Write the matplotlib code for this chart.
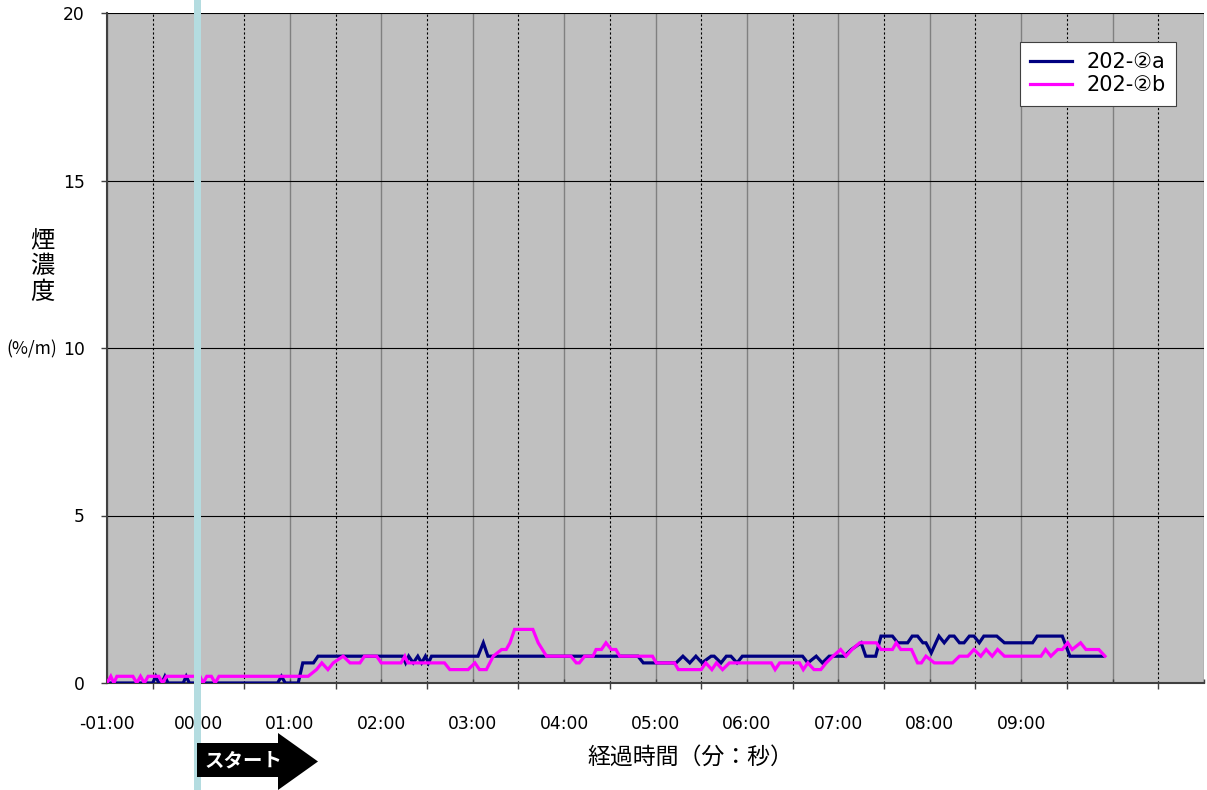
import matplotlib
matplotlib.use("Agg")
import matplotlib.pyplot as plt
from matplotlib.patches import Polygon, Rectangle
from matplotlib.ticker import FixedLocator, NullFormatter
from matplotlib.transforms import blended_transform_factory

plt.rcParams['font.family'] = ['DejaVu Sans', 'Noto Sans CJK JP']
JP = ['Noto Sans CJK JP', 'DejaVu Sans']

# 煙濃度 (%/m) の折れ線頂点: 経過時間[s] と値
time_a = [-60, -30, -28, -26, -24, -22, -20, -10, -8, -6, 52, 54.5, 57, 65.5,
          68.5, 75.5, 78.5, 134, 136, 138, 141, 144, 146.5, 149, 151, 153,
          183.5, 187, 190, 288.5, 292, 313.5, 318, 322.5, 326.5, 330.5, 336.5,
          338.5, 343, 346.5, 349.5, 353.5, 357, 396.5, 400, 405.5, 409.5, 414,
          424, 428.5, 435, 438, 444.5, 448, 455.5, 459, 465.5, 468.5, 472,
          475.5, 477.5, 481, 486, 489.5, 493, 496, 499.5, 502.5, 506, 509,
          512.5, 515.5, 524, 529, 547.5, 550.5, 567, 572, 594]
value_a = [0, 0, 0.2, 0, 0, 0.2, 0, 0, 0.2, 0, 0, 0.2, 0, 0,
           0.6, 0.6, 0.8, 0.8, 0.6, 0.8, 0.6, 0.8, 0.6, 0.8, 0.6, 0.8,
           0.8, 1.2, 0.8, 0.8, 0.6, 0.6, 0.8, 0.6, 0.8, 0.6, 0.8,
           0.8, 0.6, 0.8, 0.8, 0.6, 0.8, 0.8, 0.6, 0.8, 0.6, 0.8,
           0.8, 1.0, 1.2, 0.8, 0.8, 1.4, 1.4, 1.2, 1.2, 1.4, 1.4,
           1.2, 1.2, 0.9, 1.4, 1.2, 1.4, 1.4, 1.2, 1.2, 1.4, 1.4,
           1.2, 1.4, 1.4, 1.2, 1.2, 1.4, 1.4, 0.8, 0.8]

time_b = [-60, -57.5, -55.5, -53.5, -43, -40.5, -38, -35.5, -33, -26, -23.5,
          -21, 1, 3, 5.5, 8.5, 11, 13.5, 72, 77.5, 81, 85, 88.5, 95, 99.5,
          106, 109, 117, 120, 133, 135.5, 137.5, 161.5, 165, 177, 181.5, 184.5,
          189, 193.5, 199, 202, 204.5, 207.5, 219.5, 223, 228.5, 244.5, 248,
          250, 253.5, 259, 261, 264.5, 267.5, 271, 274, 276.5, 298, 300.5,
          312.5, 315, 330, 333, 337, 340, 344, 348.5, 376, 378.5, 381.5, 394.5,
          397, 400, 404, 408.5, 412, 416.5, 421.5, 425, 429, 434, 445, 448,
          455.5, 458, 461, 468, 472, 474.5, 477.5, 483, 495, 499.5, 505, 509,
          513.5, 517, 521, 524.5, 529, 553, 556, 559.5, 564, 567, 570.5, 573.5,
          579, 582.5, 591, 595]
value_b = [0, 0.2, 0, 0.2, 0.2, 0, 0.2, 0, 0.2, 0.2, 0,
           0.2, 0.2, 0, 0.2, 0.2, 0, 0.2, 0.2, 0.4, 0.6, 0.4, 0.6, 0.8, 0.6,
           0.6, 0.8, 0.8, 0.6, 0.6, 0.8, 0.6, 0.6, 0.4, 0.4, 0.6, 0.4,
           0.4, 0.8, 1.0, 1.0, 1.2, 1.6, 1.6, 1.2, 0.8, 0.8, 0.6,
           0.6, 0.8, 0.8, 1.0, 1.0, 1.2, 1.0, 1.0, 0.8, 0.8, 0.6,
           0.6, 0.4, 0.4, 0.6, 0.4, 0.6, 0.4, 0.6, 0.6, 0.4, 0.6, 0.6,
           0.4, 0.6, 0.4, 0.4, 0.6, 0.8, 1.0, 0.8, 1.0, 1.2, 1.2, 1.0,
           1.0, 1.2, 1.0, 1.0, 0.6, 0.6, 0.8, 0.6, 0.6, 0.8, 0.8, 1.0,
           0.8, 1.0, 0.8, 1.0, 0.8, 0.8, 1.0, 0.8, 1.0, 1.0, 1.2, 1.0,
           1.2, 1.0, 1.0, 0.8]

series_names = ["202-②a", "202-②b"]
series_colors = ["#000080", "#FF00FF"]

minute_ticks = list(range(-60, 661, 60))
half_minute_ticks = list(range(-30, 661, 60))
minute_labels = ["-01:00", "00:00", "01:00", "02:00", "03:00", "04:00",
                 "05:00", "06:00", "07:00", "08:00", "09:00", "", ""]
y_ticks = [0, 5, 10, 15, 20]

W, H = 1207, 790


def fig_xy(x, y):
    # pixel position (from top-left) -> figure fraction
    return x / W, 1 - y / H


fig = plt.figure(figsize=(W / 100, H / 100), dpi=100)
ax = fig.add_axes([107 / W, (H - 683) / H, (1204 - 107) / W, (683 - 13) / H])
ax.set_facecolor("#C0C0C0")

ax.plot(time_a, value_a, color=series_colors[0], lw=2.3, label=series_names[0],
        solid_joinstyle="miter", zorder=3)
ax.plot(time_b, value_b, color=series_colors[1], lw=2.3, label=series_names[1],
        solid_joinstyle="miter", zorder=4)

ax.set_xlim(-60, 660)
ax.set_ylim(0, 20)

ax.xaxis.set_major_locator(FixedLocator(minute_ticks))
ax.set_xticklabels(minute_labels, fontsize=12.3)
ax.xaxis.set_minor_locator(FixedLocator(half_minute_ticks))
ax.xaxis.set_minor_formatter(NullFormatter())
ax.set_yticks(y_ticks)
ax.set_yticklabels([str(v) for v in y_ticks], fontsize=12.3)

ax.tick_params(axis="x", which="major", direction="in", length=3, width=1,
               color="#404040", pad=23)
ax.tick_params(axis="x", which="minor", direction="out", length=4, width=1,
               color="#404040")
ax.tick_params(axis="y", direction="out", length=4, width=1, color="#404040",
               pad=12)

ax.grid(which="major", axis="x", color="#808080", lw=1.0)
ax.grid(which="minor", axis="x", color="black", lw=0.8, linestyle=(0, (2, 2)))
ax.grid(which="major", axis="y", color="black", lw=0.8)
ax.set_axisbelow(True)

for side in ("top", "right"):
    ax.spines[side].set_visible(False)
for side in ("left", "bottom"):
    ax.spines[side].set_color("#404040")
    ax.spines[side].set_linewidth(1.5)

leg = ax.legend(loc="upper right", bbox_to_anchor=(0.9745, 0.957),
                prop={"family": JP[::-1], "size": 15}, handlelength=2.0,
                handletextpad=0.7, borderpad=0.5, labelspacing=0.15,
                borderaxespad=0, fancybox=False, framealpha=1,
                edgecolor="#404040")
leg.get_frame().set_linewidth(0.8)

# 軸ラベル
fig.text(*fig_xy(42, 266), "煙\n濃\n度", family=JP, fontsize=17.5,
         ha="center", va="center", linespacing=1.0)
fig.text(*fig_xy(32, 349), "(%/m)", family=JP, fontsize=12.5,
         ha="center", va="center")
fig.text(*fig_xy(690, 757), "経過時間（分：秒）", family=JP, fontsize=16.5,
         ha="center", va="center")

# スタート矢印
arrow = [(197, 743), (278, 743), (278, 733), (318, 761.5), (278, 790),
         (278, 777), (197, 777)]
fig.patches.append(Polygon([fig_xy(x, y) for x, y in arrow], closed=True,
                           transform=fig.transFigure, facecolor="black",
                           edgecolor="none", zorder=5))
fig.text(*fig_xy(244, 761), "スタート", family=JP, fontsize=14,
         fontweight="bold", color="white", ha="center", va="center", zorder=6)

# 開始時刻の縦帯
trans = blended_transform_factory(ax.transData, fig.transFigure)
ax.add_patch(Rectangle((-3.0, 0), 4.4, 1, transform=trans, clip_on=False,
                       facecolor="#B4DCE0", edgecolor="none", zorder=10))

fig.savefig("out.png", dpi=100)
